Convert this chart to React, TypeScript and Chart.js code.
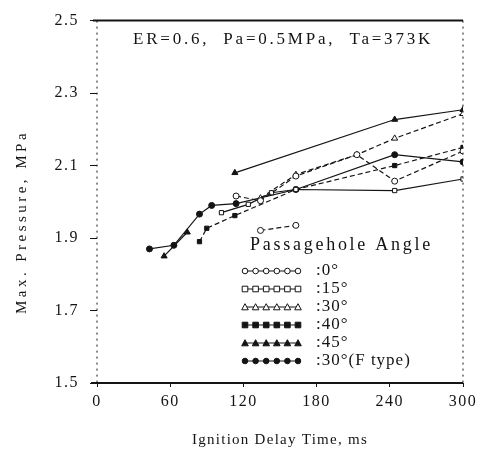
import React, { useEffect, useRef } from "react";
import { Chart, registerables } from "chart.js";
Chart.register(...registerables);

// ---- data (ignition delay time in ms, max pressure in MPa) ----
const seriesNames = ["0°", "15°", "30°", "40°", "45°", "30°(F type)"];

const t0 = [114, 134, 163, 213, 244, 300];
const p0 = [2.016, 2.003, 2.071, 2.13, 2.057, 2.14];

const t15 = [102, 124, 143, 163, 244, 300];
const p15 = [1.97, 1.993, 2.025, 2.034, 2.031, 2.063];

const t30 = [134, 163, 213, 244, 300];
const p30 = [2.01, 2.075, 2.13, 2.175, 2.243];

const t40 = [84, 90, 113, 163, 244, 300];
const p40 = [1.89, 1.927, 1.962, 2.034, 2.1, 2.15];

const t45 = [55, 74, 94, 113, 244, 300];
const p45 = [1.85, 1.916, null, 2.08, 2.227, 2.254];

const tF = [43, 63, 84, 94, 114, 163, 244, 300];
const pF = [1.87, 1.88, 1.966, 1.99, 1.995, 2.034, 2.13, 2.11];

// short isolated run (no legend entry)
const tExtra = [134, 163];
const pExtra = [1.921, 1.935];

const xTicks = [0, 60, 120, 180, 240, 300];
const yTicks = [1.5, 1.7, 1.9, 2.1, 2.3, 2.5];

const annotation = "ER=0.6,  Pa=0.5MPa,  Ta=373K";
const legendTitle = "Passagehole Angle";
const xTitle = "Ignition Delay Time, ms";
const yTitle = "Max. Pressure, MPa";

type Mark = "circle" | "rect" | "triangle";
const marks: Mark[] = ["circle", "rect", "triangle", "rect", "triangle", "circle"];
const filled = [false, false, false, true, true, true];
const dashed = [true, false, true, true, false, false];

const INK = "#141414";
const SERIF = "'Liberation Serif', 'DejaVu Serif', serif";

function pts(ts: number[], ps: (number | null)[]) {
  return ts.map((t, i) => ({ x: t, y: ps[i] }));
}

function drawMark(ctx: CanvasRenderingContext2D, m: Mark, x: number, y: number, fill: boolean) {
  const r = 2.8;
  ctx.beginPath();
  if (m === "circle") ctx.arc(x, y, r, 0, Math.PI * 2);
  else if (m === "rect") ctx.rect(x - r, y - r, 2 * r, 2 * r);
  else {
    ctx.moveTo(x, y - r - 0.5);
    ctx.lineTo(x + r + 0.5, y + r);
    ctx.lineTo(x - r - 0.5, y + r);
    ctx.closePath();
  }
  ctx.fillStyle = fill ? INK : "#fff";
  ctx.fill();
  ctx.lineWidth = 1;
  ctx.strokeStyle = INK;
  ctx.stroke();
}

function fittedText(ctx: CanvasRenderingContext2D, text: string, x: number, y: number, width: number) {
  (ctx as any).letterSpacing = "0px";
  const w = ctx.measureText(text).width;
  const ls = Math.max(0, (width - w) / text.length);
  (ctx as any).letterSpacing = ls + "px";
  ctx.fillText(text, x, y);
  (ctx as any).letterSpacing = "0px";
}

const decorPlugin = {
  id: "decor",
  beforeDraw(chart: any) {
    (chart.ctx as any).letterSpacing = "1.5px";
  },
  afterDraw(chart: any) {
    const ctx: CanvasRenderingContext2D = chart.ctx;
    const a = chart.chartArea;
    ctx.save();
    // frame
    ctx.strokeStyle = INK;
    ctx.lineWidth = 2;
    ctx.beginPath();
    ctx.moveTo(a.left - 4, a.top);
    ctx.lineTo(a.right, a.top);
    ctx.stroke();
    ctx.beginPath();
    ctx.moveTo(a.left - 6, a.bottom);
    ctx.lineTo(a.right, a.bottom);
    ctx.stroke();
    ctx.lineWidth = 1;
    ctx.setLineDash([2, 4]);
    ctx.beginPath();
    ctx.moveTo(a.left, a.top);
    ctx.lineTo(a.left, a.bottom);
    ctx.moveTo(a.right, a.top);
    ctx.lineTo(a.right, a.bottom);
    ctx.stroke();
    ctx.setLineDash([]);

    ctx.fillStyle = INK;
    ctx.textBaseline = "middle";
    ctx.textAlign = "left";
    // annotation
    ctx.font = `17px ${SERIF}`;
    fittedText(ctx, annotation, 133, 40, 300);
    // legend
    ctx.font = `18px ${SERIF}`;
    fittedText(ctx, legendTitle, 250, 245, 183);
    ctx.font = `17px ${SERIF}`;
    for (let i = 0; i < seriesNames.length; i++) {
      const y = 271 + i * 18;
      ctx.strokeStyle = INK;
      ctx.lineWidth = 1.2;
      ctx.beginPath();
      ctx.moveTo(245, y);
      ctx.lineTo(298, y);
      ctx.stroke();
      for (let k = 0; k < 6; k++) drawMark(ctx, marks[i], 245 + k * 10.6, y, filled[i]);
      ctx.fillStyle = INK;
      (ctx as any).letterSpacing = "1px";
      ctx.fillText(":" + seriesNames[i], 316, y);
      (ctx as any).letterSpacing = "0px";
    }
    // axis titles
    ctx.font = `15px ${SERIF}`;
    ctx.textAlign = "left";
    fittedText(ctx, xTitle, 192, 440, 176);
    ctx.save();
    ctx.translate(22, 222);
    ctx.rotate(-Math.PI / 2);
    fittedText(ctx, yTitle, -92, 0, 184);
    ctx.restore();
    ctx.restore();
  },
};

export default function App() {
  const ref = useRef<HTMLCanvasElement>(null);
  useEffect(() => {
    document.body.style.margin = "0";
    const mk = (label: string, d: any[], i: number) => ({
      label,
      data: d,
      borderColor: INK,
      backgroundColor: filled[i] ? INK : "#fff",
      pointBackgroundColor: filled[i] ? INK : "#fff",
      pointBorderColor: INK,
      pointStyle: marks[i],
      pointRadius: marks[i] === "triangle" ? 3.5 : 3,
      pointBorderWidth: 1,
      borderWidth: 1.2,
      borderDash: dashed[i] ? [5, 3] : [],
      spanGaps: false,
      tension: 0,
    });
    const datasets = [
      mk(seriesNames[0], pts(t0, p0), 0),
      mk(seriesNames[1], pts(t15, p15), 1),
      mk(seriesNames[2], pts(t30, p30), 2),
      mk(seriesNames[3], pts(t40, p40), 3),
      mk(seriesNames[4], pts(t45, p45), 4),
      mk(seriesNames[5], pts(tF, pF), 5),
      mk("0° (second run)", pts(tExtra, pExtra), 0),
    ];
    const chart = new Chart(ref.current!, {
      type: "line",
      data: { datasets },
      plugins: [decorPlugin],
      options: {
        animation: false,
        responsive: false,
        devicePixelRatio: 1,
        layout: { padding: { left: 0, right: 23, top: 15, bottom: 0 } },
        plugins: { legend: { display: false }, tooltip: { enabled: false } },
        scales: {
          x: {
            type: "linear",
            min: 0,
            max: 300,
            afterFit: (s: any) => {
              s.height = 69;
            },
            afterBuildTicks: (s: any) => {
              s.ticks = xTicks.map((v) => ({ value: v }));
            },
            grid: { drawOnChartArea: false, drawTicks: true, tickLength: 4, color: INK },
            border: { display: false },
            ticks: { color: INK, padding: 5, font: { family: SERIF, size: 16 } },
          },
          y: {
            type: "linear",
            min: 1.5,
            max: 2.5,
            afterFit: (s: any) => {
              s.width = 97;
            },
            afterBuildTicks: (s: any) => {
              s.ticks = yTicks.map((v) => ({ value: v }));
            },
            grid: { drawOnChartArea: false, drawTicks: true, tickLength: 7, color: INK },
            border: { display: false },
            ticks: {
              color: INK,
              padding: 11,
              font: { family: SERIF, size: 16 },
              callback: (v: any) => Number(v).toFixed(1),
            },
          },
        },
      },
    });
    return () => chart.destroy();
  }, []);
  return (
    <div style={{ width: 486, height: 452, background: "#fff" }}>
      <canvas ref={ref} width={486} height={452} style={{ width: 486, height: 452, display: "block" }} />
    </div>
  );
}
